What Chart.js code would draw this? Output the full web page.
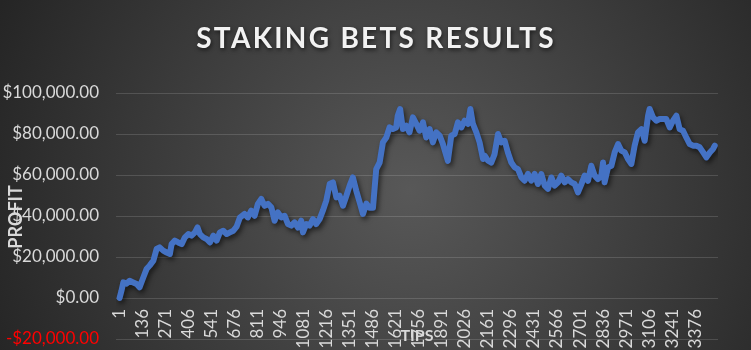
<!DOCTYPE html>
<html>
<head>
<meta charset="utf-8">
<title>Staking Bets Results</title>
<script src="https://cdn.jsdelivr.net/npm/chart.js@4.4.0/dist/chart.umd.min.js"></script>
<style>
    html, body { margin: 0; padding: 0; background: #2a2a2a; }
    #wrap { width: 751px; height: 350px; }
</style>
</head>
<body>
<div id="wrap"><canvas id="myChart" width="751" height="350"></canvas></div>
<script>
'use strict';

// tip number of each point
let tips = [1, 12, 23, 42, 60, 81, 101, 118, 140, 159, 177, 199, 218, 236, 257, 277, 296, 306, 325, 345,
    365, 384, 404, 423, 443, 458, 472, 492, 511, 531, 551, 570, 589, 609, 629, 648, 668, 687, 706, 734,
    753, 773, 793, 812, 832, 851, 871, 891, 910, 929, 949, 969, 988, 1008, 1027, 1047, 1066, 1076, 1096, 1115,
    1135, 1154, 1174, 1193, 1213, 1233, 1252, 1272, 1291, 1311, 1331, 1350, 1369, 1389, 1409, 1428, 1448, 1467, 1487, 1496,
    1506, 1526, 1545, 1565, 1584, 1603, 1623, 1632, 1646, 1662, 1682, 1701, 1721, 1741, 1760, 1780, 1799, 1819, 1838, 1858,
    1878, 1897, 1917, 1926, 1946, 1966, 1985, 2005, 2024, 2044, 2058, 2073, 2093, 2112, 2132, 2142, 2161, 2181, 2200, 2220,
    2239, 2259, 2278, 2298, 2318, 2337, 2357, 2376, 2396, 2415, 2435, 2454, 2474, 2494, 2513, 2533, 2552, 2572, 2591, 2611,
    2630, 2650, 2670, 2689, 2709, 2728, 2748, 2767, 2787, 2806, 2826, 2836, 2845, 2865, 2885, 2904, 2924, 2943, 2963, 2982,
    3002, 3021, 3041, 3061, 3080, 3100, 3109, 3129, 3148, 3168, 3187, 3207, 3227, 3246, 3266, 3285, 3305, 3324, 3344, 3363,
    3383, 3403, 3423, 3442, 3462, 3481, 3491];

// running profit at those tips
let profit = [0, 3500, 7600, 7000, 8400, 7600, 6800, 5200, 10000, 14100, 15800, 18200, 23900, 24700, 23100, 22200, 21500, 26300, 28000, 27100,
    26300, 29600, 31200, 30400, 32000, 34400, 31200, 29600, 28800, 27100, 30400, 28000, 32000, 32800, 31200, 32000, 32800, 34800, 39200, 41000,
    39300, 42600, 40100, 45900, 48300, 45000, 45900, 44200, 37700, 41800, 39300, 40100, 36100, 35300, 36900, 34400, 37700, 32000, 36100, 35300,
    38500, 36100, 38500, 42600, 47500, 55600, 56400, 49100, 49900, 45000, 49900, 54800, 58800, 52300, 46600, 41000, 46000, 44000, 44000, 53200,
    62900, 66100, 75900, 78300, 83200, 82400, 83200, 88900, 92200, 82400, 84000, 80800, 88100, 84900, 81600, 85700, 78300, 82400, 75900, 80800,
    79200, 75100, 69400, 66900, 79200, 80000, 85700, 83200, 86500, 84900, 92200, 84900, 80800, 75900, 67800, 69400, 67000, 66100, 70200, 80000,
    75900, 76700, 71000, 66100, 63700, 62900, 58800, 57200, 60500, 57200, 60500, 55600, 60500, 54800, 53200, 58800, 54800, 56400, 59700, 56400,
    58000, 56400, 55600, 51500, 55600, 59700, 57200, 64500, 59700, 58000, 59700, 66100, 56400, 63700, 64500, 71000, 75100, 71900, 71000, 67800,
    65400, 74300, 80800, 82400, 76700, 88900, 92200, 88100, 86500, 87300, 87300, 87300, 83200, 86500, 88900, 82400, 81600, 78300, 75100, 74300,
    74300, 73500, 71000, 68600, 71000, 72700, 74300];

let tipTicks = [1, 136, 271, 406, 541, 676, 811, 946, 1081, 1216, 1351, 1486, 1621, 1756, 1891, 2026,
    2161, 2296, 2431, 2566, 2701, 2836, 2971, 3106, 3241, 3376];
let profitTicks = [-20000, 0, 20000, 40000, 60000, 80000, 100000];

let chartTitle = 'STAKING BETS RESULTS';
let xTitle = 'TIPS';
let yTitle = 'PROFIT';

let points = [];
for (let i = 0; i < tips.length; i++) {
    points.push({ x: tips[i], y: profit[i] });
}

function money(v) {
    let s = '$' + Math.abs(v).toLocaleString('en-US', { minimumFractionDigits: 2, maximumFractionDigits: 2 });
    return v < 0 ? '-' + s : s;
}

let backgroundPlugin = {
    id: 'background',
    beforeDraw: function (chart) {
        let ctx = chart.ctx;
        let grad = ctx.createRadialGradient(410, 190, 0, 410, 190, 450);
        grad.addColorStop(0, '#585858');
        grad.addColorStop(1, '#252525');
        ctx.save();
        ctx.fillStyle = grad;
        ctx.fillRect(0, 0, chart.width, chart.height);
        ctx.restore();
    }
};

let shadowPlugin = {
    id: 'lineShadow',
    beforeDatasetsDraw: function (chart) {
        let ctx = chart.ctx;
        ctx.save();
        ctx.shadowColor = 'rgba(0, 0, 0, 0.55)';
        ctx.shadowBlur = 5;
        ctx.shadowOffsetX = 2;
        ctx.shadowOffsetY = 3;
    },
    afterDatasetsDraw: function (chart) {
        chart.ctx.restore();
    }
};

let textPlugin = {
    id: 'texts',
    afterDraw: function (chart) {
        let ctx = chart.ctx;
        ctx.save();
        // main title
        ctx.font = 'bold 28px Lato';
        ctx.letterSpacing = '2.3px';
        ctx.fillStyle = '#f2f2f2';
        ctx.textAlign = 'center';
        ctx.textBaseline = 'middle';
        ctx.shadowColor = 'rgba(0, 0, 0, 0.6)';
        ctx.shadowBlur = 4;
        ctx.shadowOffsetX = 1;
        ctx.shadowOffsetY = 2;
        ctx.fillText(chartTitle, 376, 39);
        ctx.restore();

        // axis titles, placed by hand like the original
        ctx.save();
        ctx.fillStyle = '#d9d9d9';
        ctx.textAlign = 'center';
        ctx.textBaseline = 'middle';
        ctx.font = 'bold 16px Lato';
        ctx.fillText(xTitle, 417, 336);
        ctx.font = 'bold 18px Lato';
        ctx.translate(16, 217);
        ctx.rotate(-Math.PI / 2);
        ctx.fillText(yTitle, 0, 0);
        ctx.restore();
    }
};

let ctx = document.getElementById('myChart').getContext('2d');

let myChart = new Chart(ctx, {
    type: 'line',
    data: {
        datasets: [{
            label: 'Profit',
            data: points,
            borderColor: '#4472c4',
            borderWidth: 6,
            borderJoinStyle: 'round',
            borderCapStyle: 'round',
            pointRadius: 0,
            tension: 0,
            fill: false
        }]
    },
    options: {
        responsive: false,
        animation: false,
        devicePixelRatio: 1,
        layout: {
            padding: { top: 93, right: 33, bottom: 11, left: 0 }
        },
        plugins: {
            legend: { display: false },
            title: { display: false },
            tooltip: { enabled: false }
        },
        scales: {
            x: {
                type: 'linear',
                position: { y: 0 },
                min: -20,
                max: 3510,
                afterBuildTicks: function (scale) {
                    scale.ticks = tipTicks.map(v => ({ value: v }));
                },
                afterFit: function (scale) {
                    scale.height = 0;
                },
                ticks: {
                    autoSkip: false,
                    minRotation: 90,
                    maxRotation: 90,
                    padding: 11,
                    color: '#d9d9d9',
                    font: { family: 'Lato', size: 17 },
                    callback: function (v) { return String(v); }
                },
                grid: { display: false, drawTicks: false },
                border: { display: false }
            },
            y: {
                min: -20000,
                max: 100000,
                afterBuildTicks: function (scale) {
                    scale.ticks = profitTicks.map(v => ({ value: v }));
                },
                afterFit: function (scale) {
                    scale.width = 116;
                    scale.paddingTop = 0;
                    scale.paddingBottom = 0;
                },
                ticks: {
                    padding: 17,
                    color: function (c) { return c.tick.value < 0 ? '#ff0000' : '#d9d9d9'; },
                    font: { family: 'Lato', size: 17 },
                    callback: function (v) { return money(v); }
                },
                grid: { color: 'rgba(255, 255, 255, 0.14)', lineWidth: 1, drawTicks: false },
                border: { display: false }
            }
        }
    },
    plugins: [backgroundPlugin, shadowPlugin, textPlugin]
});
</script>
</body>
</html>
